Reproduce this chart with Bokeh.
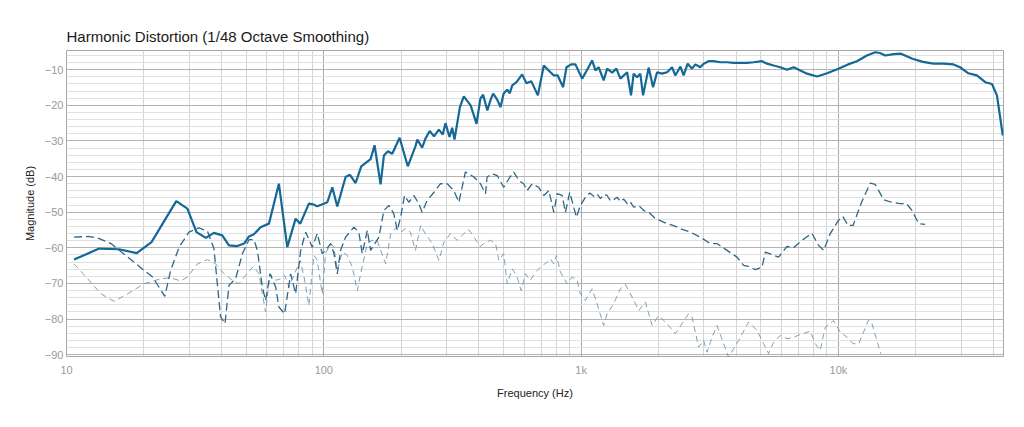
from bokeh.plotting import figure
from bokeh.models import FixedTicker, Range1d
from bokeh.embed import file_html
from bokeh.resources import INLINE

# ---- data (frequency in Hz, magnitude in dB) ----
fund_f = [10.7, 13.4, 16.0, 18.75, 21.4, 26.7, 29.5, 32.0, 34.8, 37.4, 40.3, 42.8, 46.1, 49.0,
          51.2, 53.5, 56.8, 61.2, 66.9, 72.1, 77.7, 81.0, 87.5, 91.0, 94.3, 100, 103.2, 107.9,
          112.8, 121.5, 126.3, 132.9, 139.8, 152, 157.5, 166.2, 171.2, 177.4, 184.5, 197, 212,
          227, 231, 241, 248, 258, 268, 280, 290, 297, 308, 315.5, 322, 338, 350, 372, 383, 392,
          406, 416, 432, 445, 455, 472, 486, 500, 516, 528, 540, 561, 590, 613, 640, 679, 716,
          748, 783, 811, 851, 877, 915, 950, 1009, 1061, 1103, 1137, 1170, 1224, 1262, 1320,
          1371, 1421, 1509, 1563, 1600, 1650, 1698, 1741, 1830, 1904, 1973, 2063, 2158, 2256,
          2323, 2431, 2503, 2594, 2698, 2779, 2905, 2993, 3130, 3273, 3475, 3690, 3914, 4155,
          4413, 4678, 5046, 5277, 5598, 5942, 6310, 6698, 7112, 7550, 8260, 9033, 10000, 10900,
          11800, 12900, 13900, 14500, 15200, 16400, 17500, 19400, 21300, 23400, 25600, 28000,
          29700, 32000, 34500, 37200, 39500, 41300, 42500, 43500]
fund_db = [-63.3, -60.2, -60.4, -61.5, -58.4, -46.9, -49.0, -55.6, -57.2, -55.8, -56.5, -59.3,
           -59.5, -58.8, -56.8, -56.2, -54.2, -53.2, -42.0, -59.8, -51.8, -53.2, -47.6, -47.8,
           -48.3, -47.6, -47.2, -43.0, -48.4, -40.1, -39.5, -41.8, -37.1, -35.1, -31.2, -42.2,
           -34.1, -32.9, -33.6, -29.1, -37.1, -31.5, -29.6, -31.9, -29.4, -27.2, -28.7, -26.8,
           -28.2, -25.0, -28.9, -26.3, -29.6, -20.5, -17.5, -20.0, -22.8, -25.2, -18.1, -17.0,
           -21.4, -18.4, -16.7, -18.4, -20.5, -16.7, -15.6, -16.6, -14.4, -13.5, -11.3, -13.8,
           -13.2, -17.2, -8.8, -10.2, -11.6, -11.6, -14.9, -9.3, -8.5, -8.5, -12.5, -9.7, -7.4,
           -10.2, -9.3, -13.0, -9.7, -10.8, -9.7, -12.5, -10.7, -17.2, -11.1, -12.1, -11.1,
           -17.2, -9.4, -14.9, -10.7, -11.1, -10.7, -9.3, -11.6, -9.1, -11.6, -8.3, -9.7, -8.5,
           -9.3, -8.3, -7.6, -7.6, -7.9, -7.9, -8.1, -8.1, -8.1, -7.9, -7.6, -8.3, -8.8, -9.3,
           -10.0, -9.3, -10.2, -11.1, -11.9, -11.0, -9.7, -8.5, -7.6, -6.0, -5.1, -5.3, -6.0,
           -5.6, -5.5, -6.9, -7.8, -8.3, -8.3, -8.5, -9.3, -11.0, -11.6, -13.5, -14.0, -17.2,
           -23.3, -28.4]

h2_f = [10.7, 12.1, 13.2, 14.9, 17.3, 20.0, 21.6, 24.1, 25.4, 27.4, 29.9, 32.7, 35.3, 37.4,
        39.7, 41.3, 42.8, 45.4, 48.3, 51.2, 53.5, 55.2, 57.7, 59.4, 61.8, 65.0, 66.9, 70.4,
        74.3, 77.7, 81.3, 85.0, 90.2, 94.3, 98.6, 101.6, 106.3, 109.5, 112.8, 116.2, 121.5,
        130.9, 136.8, 141.1, 147.6, 152, 163.7, 171.2, 179, 187, 193, 198.8, 206, 214, 224,
        234, 241, 252, 268, 284, 302, 320, 335, 355, 383, 406, 425, 431, 451, 472, 500, 524,
        547, 573, 598, 617, 645, 684, 716, 749, 783, 807, 844, 869, 903, 936, 959, 993, 1039,
        1080, 1119, 1150, 1189, 1225, 1262, 1300, 1338, 1380, 1421, 1465, 1509, 1550, 1600,
        1680, 1750, 1850, 1943, 2050, 2158, 2300, 2431, 2658, 2905, 3177, 3373, 3690, 4036,
        4280, 4477, 4753, 5046, 5200, 5598, 5854, 6310, 6692, 7211, 7888, 8375, 8758, 9290,
        10000, 10400, 10900, 11400, 12300, 13300, 13900, 15000, 16100, 17400, 18400, 19300,
        20500, 21700]
h2_db = [-57.0, -56.8, -57.2, -58.8, -62.6, -66.3, -68.2, -73.6, -66.3, -59.8, -55.6, -54.4,
         -55.3, -60.2, -79.4, -81.3, -70.5, -68.7, -61.6, -57.7, -57.7, -60.7, -71.0, -74.8,
         -67.3, -71.0, -76.6, -78.5, -67.3, -72.9, -60.7, -55.6, -59.8, -56.0, -61.6, -60.7,
         -58.8, -61.6, -67.3, -60.7, -57.0, -54.2, -55.6, -61.6, -55.1, -60.7, -57.0, -49.5,
         -48.1, -50.4, -55.1, -51.4, -45.3, -47.2, -45.3, -47.6, -50.0, -46.7, -44.4, -42.0,
         -42.0, -43.9, -47.2, -38.7, -40.1, -42.0, -44.8, -40.1, -39.2, -39.7, -43.0, -40.6,
         -38.7, -41.1, -42.0, -43.9, -42.0, -43.0, -45.3, -43.9, -50.0, -44.8, -45.3, -50.0,
         -44.4, -48.6, -51.4, -48.1, -45.8, -44.6, -45.5, -44.8, -46.2, -45.0, -45.3, -46.8,
         -46.5, -45.8, -47.0, -46.3, -47.6, -47.0, -48.6, -48.2, -49.5, -50.3, -51.8, -52.5,
         -53.2, -53.8, -54.6, -55.6, -57.0, -58.8, -58.8, -60.7, -62.6, -64.9, -65.2, -66.1,
         -65.4, -61.2, -62.1, -62.6, -59.6, -60.0, -57.9, -55.9, -59.3, -60.7, -56.0, -52.3,
         -51.2, -53.7, -53.7, -47.2, -41.8, -42.2, -46.5, -47.2, -47.6, -47.6, -49.5, -53.2,
         -53.4]

h3_f = [10.7, 12.1, 13.6, 15.3, 17.3, 20.0, 23.2, 25.4, 27.8, 29.5, 32.3, 35.3, 38.0, 41.0,
        44.1, 46.8, 49.7, 53.2, 56.0, 57.7, 59.4, 61.8, 65.0, 67.9, 70.4, 73.2, 76.6, 81.0,
        83.7, 87.5, 91.5, 94.3, 98.6, 101.6, 106.3, 109.5, 112.8, 118, 123.4, 129, 135, 139,
        147.6, 154, 161, 174, 182, 190, 198.8, 208, 217, 227, 238, 248, 264, 280, 293, 311,
        330, 350, 366, 383, 406, 425, 445, 465, 479, 500, 516, 540, 564, 585, 608, 635, 665,
        695, 738, 760, 783, 802, 831, 882, 923, 965, 993, 1039, 1103, 1153, 1224, 1262, 1338,
        1421, 1486, 1578, 1674, 1778, 1887, 2002, 2158, 2323, 2466, 2618, 2698, 2861, 2993,
        3085, 3226, 3373, 3579, 3743, 3914, 4093, 4477, 4826, 5119, 5354, 5598, 5942, 6310,
        6698, 7112, 7770, 8128, 8493, 8884, 9572, 10160, 10800, 11400, 12000, 13100, 13500,
        14100, 14600]
h3_db = [-64.5, -68.7, -72.9, -75.0, -72.9, -70.1, -68.7, -68.4, -69.3, -68.2, -64.5, -63.3,
         -64.5, -67.3, -69.1, -70.1, -67.7, -65.2, -67.3, -72.9, -78.0, -67.3, -69.1, -68.7,
         -67.7, -71.0, -67.7, -63.5, -68.0, -76.2, -62.1, -63.5, -72.9, -61.6, -58.8, -59.8,
         -66.3, -61.2, -62.1, -65.4, -72.0, -67.3, -58.8, -57.9, -57.9, -64.5, -56.0, -54.4,
         -55.6, -54.6, -55.6, -60.7, -53.7, -56.0, -58.8, -63.5, -58.4, -56.0, -57.9, -56.0,
         -54.9, -57.0, -59.6, -58.4, -57.9, -58.8, -63.5, -61.6, -70.1, -65.9, -68.2, -72.0,
         -67.3, -69.1, -66.8, -65.4, -64.0, -63.1, -64.5, -62.1, -66.8, -70.1, -68.2, -69.1,
         -72.9, -74.8, -71.5, -75.7, -81.8, -78.5, -75.7, -71.5, -70.3, -73.8, -77.6, -75.2,
         -81.8, -79.0, -81.3, -84.1, -81.3, -78.5, -79.4, -87.9, -86.0, -89.3, -85.1, -81.8,
         -86.9, -90.7, -88.3, -86.0, -80.8, -83.2, -86.9, -89.7, -86.5, -84.6, -85.5, -85.1,
         -84.3, -83.4, -86.9, -88.8, -82.3, -80.4, -83.6, -85.1, -86.9, -86.9, -80.2, -81.3,
         -86.0, -89.7]

x_major = [10, 100, 1000, 10000]
x_labels = {10: "10", 100: "100", 1000: "1k", 10000: "10k"}
x_minor = [m * d for d in (10, 100, 1000) for m in range(2, 10)] + [20000, 30000, 40000]
y_major = list(range(-90, 0, 10))
y_minor = [v for v in range(-90, -4, 2) if v % 10 != 0]

FONT = "Liberation Sans"

p = figure(width=1016, height=419, x_axis_type="log",
           x_range=Range1d(10, 43800), y_range=Range1d(-90.5, -4.6),
           output_backend="svg", toolbar_location=None,
           min_border_left=66, min_border_right=13, min_border_top=50, min_border_bottom=63,
           title="Harmonic Distortion (1/48 Octave Smoothing)")

p.title.text_font = FONT
p.title.text_font_size = "15px"
p.title.text_font_style = "normal"
p.title.text_color = "#1a1a1a"
p.title.standoff = 11
p.title.offset = 0

p.outline_line_color = "#a6a6a6"
p.background_fill_color = "white"
p.border_fill_color = "white"

p.xaxis.ticker = FixedTicker(ticks=x_major, minor_ticks=x_minor)
p.xaxis.major_label_overrides = x_labels
p.yaxis.ticker = FixedTicker(ticks=y_major, minor_ticks=y_minor)

for ax in (p.xaxis[0], p.yaxis[0]):
    ax.axis_line_color = None
    ax.major_tick_line_color = None
    ax.minor_tick_line_color = None
    ax.major_tick_out = 0
    ax.minor_tick_out = 0
    ax.major_label_text_font = FONT
    ax.major_label_text_font_size = "11px"
    ax.major_label_text_color = "#9a9a9a"
    ax.axis_label_text_font = FONT
    ax.axis_label_text_font_size = "11px"
    ax.axis_label_text_font_style = "normal"
    ax.axis_label_text_color = "#222222"

p.xaxis.axis_label = "Frequency (Hz)"
p.yaxis.axis_label = "Magnitude (dB)"
p.xaxis.major_label_standoff = 7
p.yaxis.major_label_standoff = 3
p.xaxis.axis_label_standoff = 8
p.yaxis.axis_label_standoff = 6

p.xgrid.grid_line_color = "#a9a9a9"
p.xgrid.minor_grid_line_color = "#d4d4d4"
p.ygrid.grid_line_color = "#b3b3b3"
p.ygrid.minor_grid_line_color = "#e0e0e0"

p.line(h3_f, h3_db, line_color="#7096ad", line_width=0.9, line_dash="6 4")
p.line(h2_f, h2_db, line_color="#2c6789", line_width=1.3, line_dash="8 4")
p.line(fund_f, fund_db, line_color="#136895", line_width=2.2)

open("out.html", "w").write(file_html(p, INLINE))
